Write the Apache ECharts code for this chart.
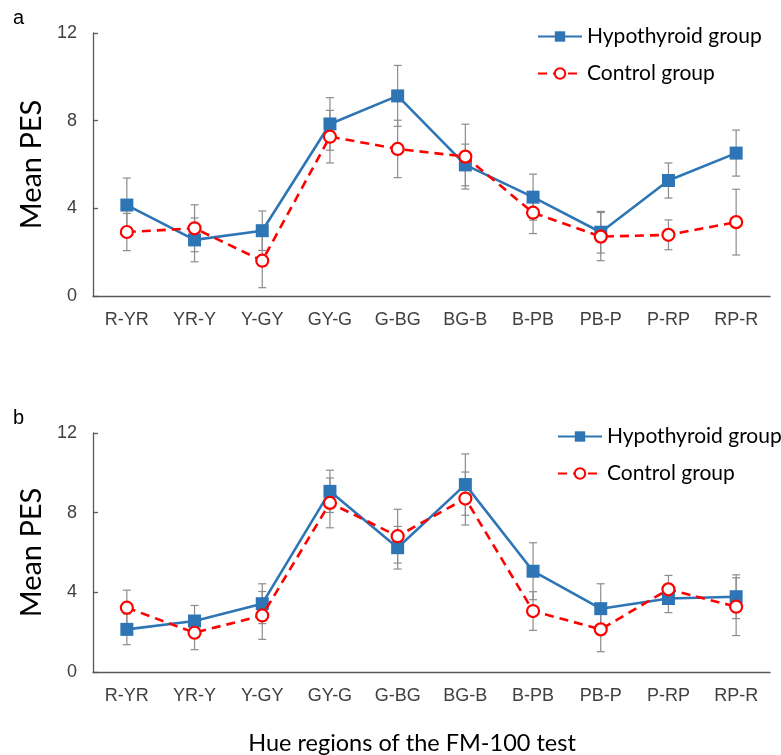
<!DOCTYPE html>
<html>
<head>
<meta charset="utf-8">
<script src="https://cdn.jsdelivr.net/npm/echarts@6/dist/echarts.min.js"></script>
<style>
  html, body { margin: 0; padding: 0; background: #fff; }
  #chart { width: 781px; height: 755px; }
</style>
</head>
<body>
<div id="chart"></div>
<script>
// Hue regions
const categories = ['R-YR', 'YR-Y', 'Y-GY', 'GY-G', 'G-BG', 'BG-B', 'B-PB', 'PB-P', 'P-RP', 'RP-R'];
const yTicks = [0, 4, 8, 12];

// panel a
const hypoA = [4.15, 2.56, 2.98, 7.85, 9.13, 5.98, 4.51, 2.91, 5.27, 6.52];
const hypoErrA = [1.23, 1.0, 0.9, 1.2, 1.39, 0.95, 1.05, 0.95, 0.8, 1.05];
const ctrlA = [2.92, 3.09, 1.61, 7.27, 6.71, 6.36, 3.80, 2.71, 2.79, 3.37];
const ctrlErrA = [0.85, 1.07, 1.23, 1.2, 1.31, 1.48, 0.95, 1.1, 0.68, 1.5];

// panel b
const hypoB = [2.14, 2.56, 3.43, 9.07, 6.24, 9.41, 5.06, 3.18, 3.69, 3.78];
const hypoErrB = [0.77, 0.78, 1.0, 1.06, 1.07, 1.54, 1.43, 1.25, 0.71, 1.1];
const ctrlB = [3.23, 1.97, 2.84, 8.49, 6.82, 8.71, 3.06, 2.14, 4.15, 3.28];
const ctrlErrB = [0.88, 0.85, 1.2, 1.25, 1.35, 1.33, 0.97, 1.12, 0.7, 1.45];

const BLUE = '#2e75b6';
const RED = '#ff0000';
const AXIS = '#595959';
const TEXT = '#404040';

function errData(vals, errs) {
    return vals.map((v, i) => [i, v - errs[i], v + errs[i]]);
}

function errorSeries(idx, vals, errs) {
    return {
        type: 'custom',
        xAxisIndex: idx,
        yAxisIndex: idx,
        silent: true,
        z: 1,
        data: errData(vals, errs),
        renderItem: function(params, api) {
            const lo = api.coord([api.value(0), api.value(1)]);
            const hi = api.coord([api.value(0), api.value(2)]);
            const w = 4;
            const st = { stroke: '#8c8c8c', lineWidth: 1.2 };
            return {
                type: 'group',
                children: [
                    { type: 'line', shape: { x1: lo[0], y1: lo[1], x2: hi[0], y2: hi[1] }, style: st },
                    { type: 'line', shape: { x1: lo[0] - w, y1: lo[1], x2: lo[0] + w, y2: lo[1] }, style: st },
                    { type: 'line', shape: { x1: hi[0] - w, y1: hi[1], x2: hi[0] + w, y2: hi[1] }, style: st }
                ]
            };
        }
    };
}

function hypoSeries(idx, vals) {
    return {
        name: 'Hypothyroid group',
        type: 'line',
        xAxisIndex: idx,
        yAxisIndex: idx,
        data: vals,
        z: 3,
        symbol: 'rect',
        symbolSize: 13,
        itemStyle: { color: BLUE },
        lineStyle: { color: BLUE, width: 2.6 }
    };
}

function ctrlSeries(idx, vals) {
    return {
        name: 'Control group',
        type: 'line',
        xAxisIndex: idx,
        yAxisIndex: idx,
        data: vals,
        z: 4,
        symbol: 'circle',
        symbolSize: 12,
        itemStyle: { color: '#fff', borderColor: RED, borderWidth: 2.2 },
        lineStyle: { color: RED, width: 2.6, type: [9, 6] }
    };
}

function xAxisFor(idx) {
    return {
        type: 'category',
        gridIndex: idx,
        data: categories,
        axisLine: { lineStyle: { color: AXIS, width: 1.3 } },
        axisTick: { inside: true, length: 5, lineStyle: { color: AXIS, width: 1.3 } },
        axisLabel: { color: TEXT, fontFamily: 'Liberation Sans', fontSize: 18, margin: 15 }
    };
}

function yAxisFor(idx) {
    return {
        type: 'value',
        gridIndex: idx,
        min: yTicks[0],
        max: yTicks[yTicks.length - 1],
        interval: 4,
        name: 'Mean PES',
        nameLocation: 'middle',
        nameGap: 44,
        nameTextStyle: { color: '#000', fontFamily: 'Lato', fontSize: 29 },
        axisLine: { show: true, lineStyle: { color: AXIS, width: 1.3 } },
        axisTick: { show: true, inside: true, length: 5, lineStyle: { color: AXIS, width: 1.3 } },
        splitLine: { show: false },
        axisLabel: { color: TEXT, fontFamily: 'Liberation Sans', fontSize: 18, margin: 16 }
    };
}

function legendAt(left, top) {
    return {
        left: left,
        top: top,
        padding: 0,
        orient: 'vertical',
        itemWidth: 44,
        itemHeight: 13,
        itemGap: 16,
        data: ['Hypothyroid group', 'Control group'],
        textStyle: { color: '#000', fontFamily: 'Lato', fontSize: 21 }
    };
}

const chart = echarts.init(document.getElementById('chart'));

chart.setOption({
    animation: false,
    backgroundColor: '#fff',
    grid: [
        { left: 93, top: 33, width: 677, height: 263 },
        { left: 93, top: 433, width: 677, height: 239 }
    ],
    xAxis: [xAxisFor(0), xAxisFor(1)],
    yAxis: [yAxisFor(0), yAxisFor(1)],
    legend: [legendAt(537, 26), legendAt(557, 426)],
    graphic: [
        { type: 'text', left: 13, top: 8, style: { text: 'a', fontFamily: 'Liberation Sans', fontSize: 20, fill: '#000' } },
        { type: 'text', left: 13, top: 408, style: { text: 'b', fontFamily: 'Liberation Sans', fontSize: 20, fill: '#000' } },
        { type: 'text', x: 412, y: 743, style: { text: 'Hue regions of the FM-100 test', fontFamily: 'Lato', fontSize: 23.5, fill: '#000', align: 'center', verticalAlign: 'middle' } }
    ],
    series: [
        errorSeries(0, hypoA, hypoErrA),
        errorSeries(0, ctrlA, ctrlErrA),
        hypoSeries(0, hypoA),
        ctrlSeries(0, ctrlA),
        errorSeries(1, hypoB, hypoErrB),
        errorSeries(1, ctrlB, ctrlErrB),
        hypoSeries(1, hypoB),
        ctrlSeries(1, ctrlB)
    ]
});

window.addEventListener('resize', function() {
    chart.resize();
});
</script>
</body>
</html>
